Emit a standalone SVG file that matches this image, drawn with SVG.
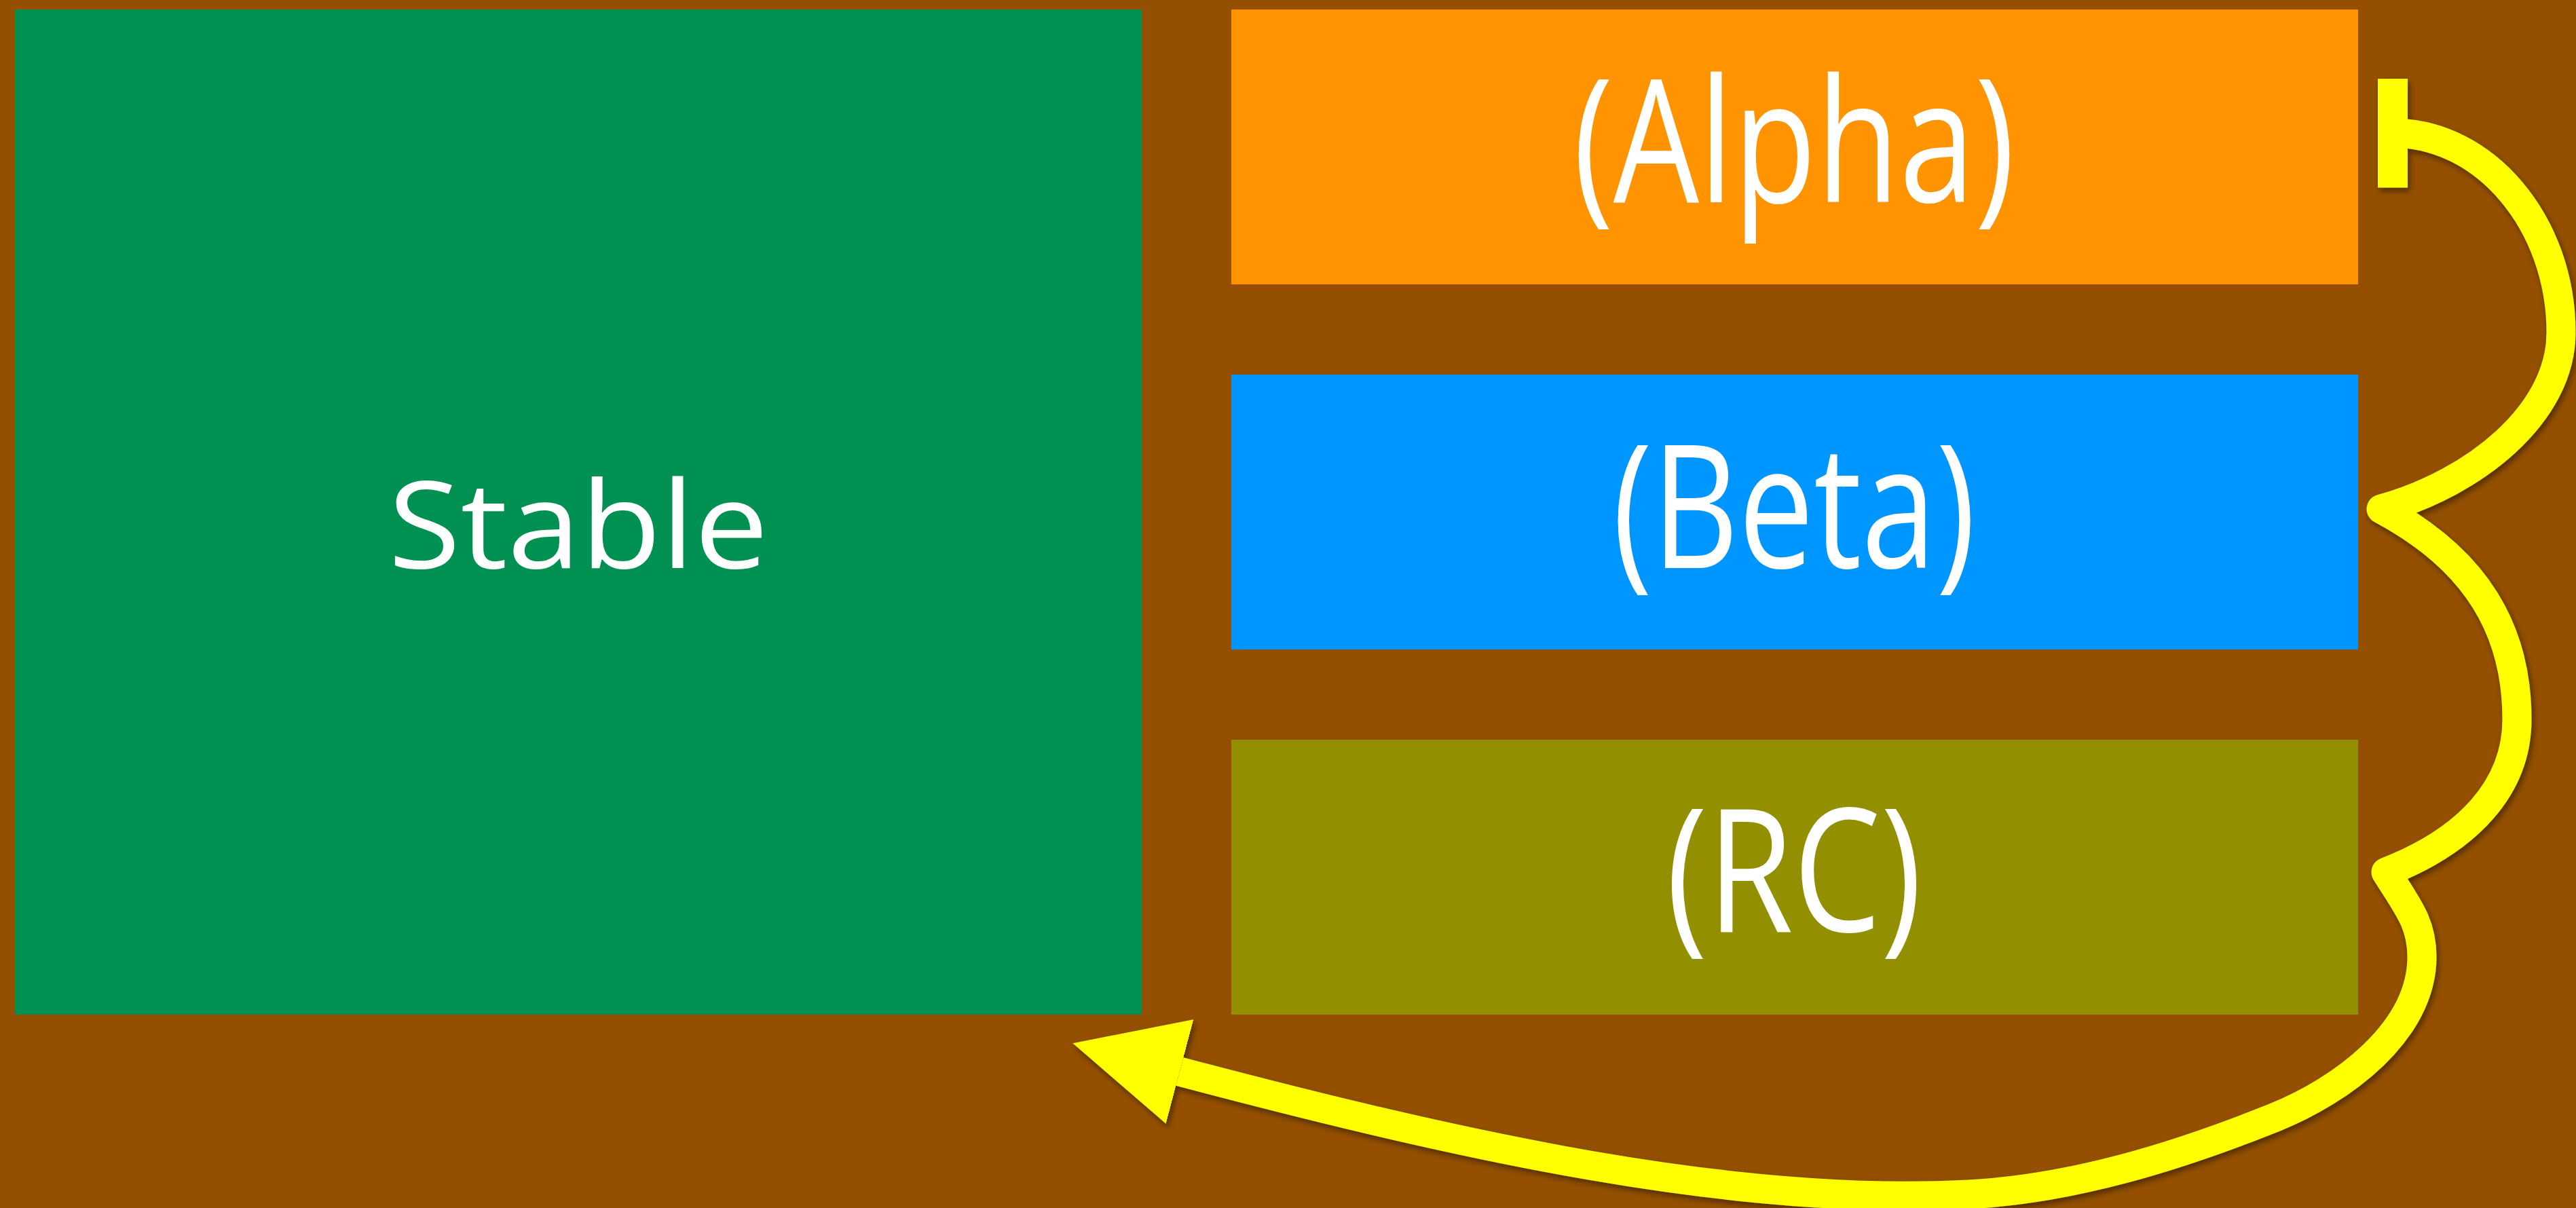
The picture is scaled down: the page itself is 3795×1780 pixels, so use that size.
<svg xmlns="http://www.w3.org/2000/svg" width="3795" height="1780" viewBox="0 0 3795 1780">
  <style>
    .lbl { font-family: "Open Sans", "Noto Sans", sans-serif; fill: #FFFFFF; text-anchor: middle; }
    .conn { fill: none; stroke: #FFFF00; stroke-width: 43; stroke-linejoin: round; }
  </style>
  <defs>
    <filter id="shadow" x="-10%" y="-10%" width="120%" height="120%">
      <feDropShadow dx="3" dy="5" stdDeviation="5" flood-color="#000000" flood-opacity="0.45"/>
    </filter>
    <marker id="arrow" markerUnits="userSpaceOnUse" viewBox="0 0 163 159" markerWidth="163" markerHeight="159" refX="0" refY="79.5" orient="auto">
      <path d="M0,0 L163,79.5 L0,159 Z" fill="#FFFF00"/>
    </marker>
    <marker id="tee" markerUnits="userSpaceOnUse" viewBox="-22 -80.5 44 161" markerWidth="44" markerHeight="161" refX="0" refY="0" orient="auto">
      <rect x="-22" y="-80.5" width="44" height="161" fill="#FFFF00"/>
    </marker>
  </defs>
  <rect x="0" y="0" width="3795" height="1780" fill="#945000"/>
  <g id="stable">
    <rect x="22" y="14" width="1660" height="1481" fill="#009051"/>
    <text class="lbl" font-size="178" transform="translate(852,837) scale(1.09,1)">Stable</text>
  </g>
  <g id="alpha">
    <rect x="1814" y="14" width="1660" height="405" fill="#FF9300"/>
    <text class="lbl" font-size="253" transform="translate(2643,298) scale(0.79,1)">(Alpha)</text>
  </g>
  <g id="beta">
    <rect x="1814" y="552" width="1660" height="405" fill="#0096FF"/>
    <text class="lbl" font-size="253" transform="translate(2643,837) scale(0.78,1)">(Beta)</text>
  </g>
  <g id="rc">
    <rect x="1814" y="1090" width="1660" height="405" fill="#929000"/>
    <text class="lbl" font-size="253" transform="translate(2643,1373) scale(0.81,1)">(RC)</text>
  </g>
  <g id="connectors" filter="url(#shadow)">
    <path class="conn" marker-start="url(#tee)" marker-end="url(#arrow)"
      d="M3525,196 C3662,196 3773,330 3773,490
         C3773,610 3645,712 3508,750
         C3650,826 3708,930 3708,1060
         C3708,1160 3636,1238 3515,1285
         C3547,1336 3568,1360 3568,1410
         C3568,1520 3450,1607 3350,1647
         C3200,1707 3050,1752 2900,1760
         C2550,1778 2150,1688 1738,1579"/>
  </g>
</svg>
